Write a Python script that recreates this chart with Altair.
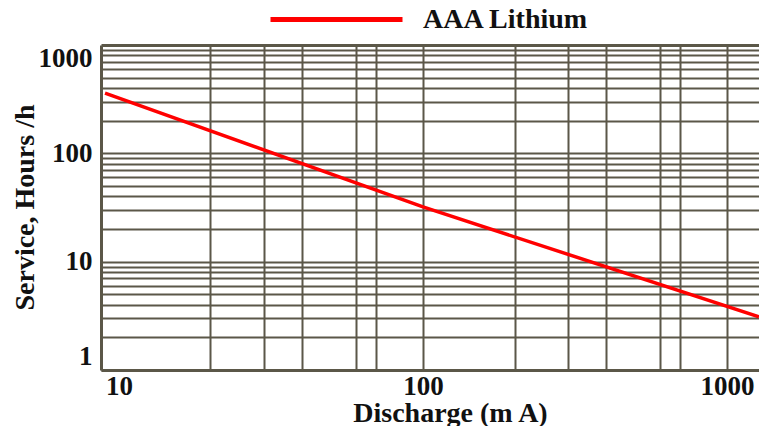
import altair as alt
import pandas as pd

# data
discharge_ma = [9, 100, 1274]
service_hours = [360, 32, 3.1]
series_name = ["AAA Lithium", "AAA Lithium", "AAA Lithium"]

x_label_values = [10, 100, 1000]
x_grid_values = [10, 20, 30, 40, 60, 70, 100, 200, 300, 400, 600, 700, 1000]
y_grid_values = [1, 2, 3, 4, 5, 6, 7, 8, 9,
                 10, 20, 30, 40, 50, 60, 70, 80, 90,
                 100, 200, 300, 400, 500, 600, 700, 800, 900, 1000]
y_label_values = [1, 10, 100, 1000]

df = pd.DataFrame({"Discharge": discharge_ma, "Hours": service_hours, "Series": series_name})

FONT = "Liberation Serif"
GRID = "#5b5748"
TEXT = "#111111"

x_axis = alt.Axis(
    values=x_grid_values,
    labelExpr="indexof(" + str(x_label_values) + ", datum.value) >= 0 ? format(datum.value, 'd') : ''",
    title="Discharge (m A)",
    titleFont=FONT, titleFontSize=28, titleFontWeight="bold", titleColor=TEXT,
    titleX=349, titleY=51, titleAlign="center", titleBaseline="alphabetic",
    labelFont=FONT, labelFontSize=27, labelFontWeight="bold", labelColor=TEXT,
    labelPadding=3, labelFlush=False, labelOverlap=False,
    ticks=False,
    domainColor=GRID, domainWidth=3,
    grid=True, gridColor=GRID, gridWidth=2,
    gridOpacity={"condition": {"test": "datum.value === 10", "value": 0}, "value": 1},
)

y_axis = alt.Axis(
    values=y_grid_values,
    labelExpr="indexof(" + str(y_label_values) + ", datum.value) >= 0 ? format(datum.value, 'd') : ''",
    title="Service, Hours /h",
    titleFont=FONT, titleFontSize=28, titleFontWeight="bold", titleColor=TEXT,
    titleX=-76, titleY=162, titleAlign="center", titleBaseline="middle", titleAngle=270,
    labelFont=FONT, labelFontSize=27, labelFontWeight="bold", labelColor=TEXT,
    labelPadding=9, labelFlush=True, labelOverlap=False,
    ticks=False,
    domainColor=GRID, domainWidth=3,
    grid=True, gridColor=GRID,
    gridWidth={"condition": {"test": "datum.value === 1000", "value": 3}, "value": 2},
)

chart = alt.Chart(df).mark_line(strokeWidth=3.5, clip=True).encode(
    x=alt.X("Discharge:Q", scale=alt.Scale(type="log", domain=[8.73, 1274], nice=False), axis=x_axis),
    y=alt.Y("Hours:Q", scale=alt.Scale(type="log", domain=[1, 1000], nice=False), axis=y_axis),
    color=alt.Color(
        "Series:N",
        scale=alt.Scale(range=["#ff0000"]),
        legend=alt.Legend(
            title=None, orient="none", legendX=167, legendY=-94, padding=0,
            symbolType="stroke", symbolSize=17424, symbolStrokeWidth=5,
            labelFont=FONT, labelFontSize=28, labelFontWeight="bold", labelColor=TEXT,
            labelOffset=18, labelLimit=500,
        ),
    ),
).properties(
    width=658, height=325,
    autosize=alt.AutoSizeParams(type="none"),
    padding={"left": 93, "top": 37, "right": 0, "bottom": 56},
).configure_view(stroke=None).configure(background="white")

chart.save("out.html", embed_options={"renderer": "svg", "actions": False})
